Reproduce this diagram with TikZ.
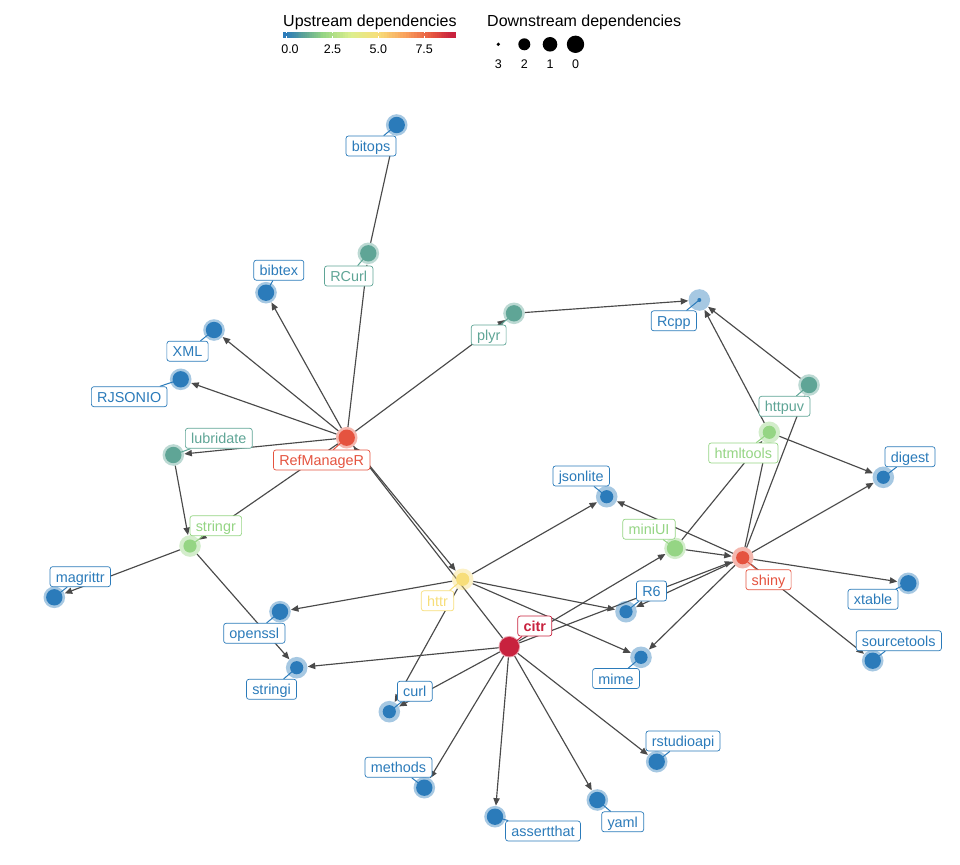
\documentclass[tikz,border=0pt]{standalone}
\usepackage{fontspec}
\setmainfont{Liberation Sans}
\usetikzlibrary{arrows.meta}
\definecolor{cblue}{HTML}{2B7BBA}
\definecolor{cteal}{HTML}{5FA596}
\definecolor{cgreen}{HTML}{95D584}
\definecolor{cyg}{HTML}{DCEF8E}
\definecolor{cyellow}{HTML}{F7DE7A}
\definecolor{corange}{HTML}{F9A05C}
\definecolor{cred}{HTML}{E5533F}
\definecolor{ccrimson}{HTML}{C8223E}
\definecolor{edgegray}{HTML}{4A4A4A}
\pgfdeclarelayer{edgelayer}
\pgfdeclarelayer{seglayer}
\pgfdeclarelayer{nodelayer}
\pgfsetlayers{edgelayer,seglayer,nodelayer,main}
\tikzset{
  pk/.style={circle,minimum size=21.6pt,inner sep=0pt,outer sep=0pt},
  lab/.style={draw=#1,text=#1,fill=white,rounded corners=2.5pt,line width=0.7pt,
    inner xsep=5.8pt,inner ysep=1.5pt,text height=14pt,text depth=3pt,
    font=\fontsize{14.4}{16}\selectfont},
  edge/.style={draw=edgegray,line width=1.15pt,-{Triangle[length=7.5pt,width=6.3pt]},shorten >=0.3pt},
  legtitle/.style={anchor=base west,inner sep=0pt,font=\fontsize{16}{18}\selectfont},
  legtick/.style={anchor=base,inner sep=0pt,font=\fontsize{12.5}{14}\selectfont}
}
% name, x, y, colour, core radius, label x, label y, text
\newcommand\pkg[8]{%
  \node[pk] (#1) at (#2,#3) {};
  \node[lab=#4] (L#1) at (#6,#7) {#8};
  \begin{pgfonlayer}{seglayer}\draw[#4,line width=1pt] (#1.center) -- (L#1);\end{pgfonlayer}
  \begin{pgfonlayer}{nodelayer}\fill[#4,fill opacity=0.42] (#1.center) circle (10.8);\fill[#4] (#1.center) circle (#5);\end{pgfonlayer}
}
\begin{document}
\begin{tikzpicture}[x=1pt,y=-1pt]
\useasboundingbox (0,0) rectangle (960,864);

% legend
\node[legtitle] (uptitle) at (283,26.7) {Upstream dependencies};
\node[legtitle] (downtitle) at (487,26.7) {Downstream dependencies};
\fill[cblue] (283,32.3) rectangle (287,37.7);
\foreach \a/\b/\ca/\cb in {0/1/cblue/cteal,1/2/cteal/cgreen,2/3.5/cgreen/cyg,3.5/5/cyg/cyellow,5/6.5/cyellow/corange,6.5/8/corange/cred,8/9/cred/ccrimson}{
  \foreach \i in {0,...,9}{
    \pgfmathsetmacro\xa{286.6+18.34*(\a+(\b-\a)*\i/10)}
    \pgfmathsetmacro\xb{286.6+18.34*(\a+(\b-\a)*(\i+1)/10)+0.3}
    \pgfmathtruncatemacro\p{(\i+0.5)*10}
    \fill[\cb!\p!\ca] (\xa,32.3) rectangle (\xb,37.7);
  }
}
\fill[ccrimson] (451.5,32.3) rectangle (456,37.7);
\foreach \tx in {286.6,332.5,378.3,424.2}{
  \draw[white,line width=0.5pt] (\tx,32.3) -- (\tx,33.5) (\tx,36.5) -- (\tx,37.7);
}
\node[legtick] (t0) at (290,53.3) {0.0};
\node[legtick] (t1) at (332.5,53.3) {2.5};
\node[legtick] (t2) at (378.3,53.3) {5.0};
\node[legtick] (t3) at (424.2,53.3) {7.5};
\fill (498.3,44.3) circle (1.8);
\fill (524.3,44.3) circle (6);
\fill (550,44.3) circle (7.3);
\fill (575.5,44.3) circle (8.7);
\node[legtick] (d3) at (498.3,68.3) {3};
\node[legtick] (d2) at (524.3,68.3) {2};
\node[legtick] (d1) at (550,68.3) {1};
\node[legtick] (d0) at (575.5,68.3) {0};

% packages
\pkg{bitops}{396.7}{125}{cblue}{8.2}{371}{146}{bitops}
\pkg{RCurl}{368.3}{253.3}{cteal}{8.2}{348.7}{276}{RCurl}
\pkg{bibtex}{266}{292.7}{cblue}{8.2}{278.8}{270.2}{bibtex}
\pkg{XML}{214}{330}{cblue}{8.2}{187.5}{351.2}{XML}
\pkg{RJSONIO}{180.7}{379.3}{cblue}{8.2}{129.2}{396.7}{RJSONIO}
\pkg{lubridate}{173.3}{455}{cteal}{8.2}{218.8}{438.3}{lubridate}
\pkg{RefManageR}{346.7}{437.7}{cred}{8.2}{321.7}{460}{RefManageR}
\pkg{plyr}{514}{313.3}{cteal}{8.2}{488.7}{335}{plyr}
\pkg{Rcpp}{699.3}{300}{cblue}{2}{673.8}{320.8}{Rcpp}
\pkg{httpuv}{809}{385}{cteal}{8.2}{784.5}{406.3}{httpuv}
\pkg{htmltools}{769.3}{432.3}{cgreen}{6.6}{743.3}{453}{htmltools}
\pkg{digest}{883.3}{477.3}{cblue}{6.6}{910}{456.7}{digest}
\pkg{jsonlite}{606.7}{496.7}{cblue}{6.6}{581.2}{476}{jsonlite}
\pkg{miniUI}{675}{548.3}{cgreen}{8.2}{649}{529.2}{miniUI}
\pkg{shiny}{742.7}{557.7}{cred}{6.6}{768.5}{579.7}{shiny}
\pkg{stringr}{190}{546}{cgreen}{6.6}{215.8}{525.8}{stringr}
\pkg{magrittr}{54.3}{597.3}{cblue}{8.2}{80.3}{576.7}{magrittr}
\pkg{httr}{462.7}{579.3}{cyellow}{6.6}{437.5}{600.8}{httr}
\pkg{R6}{626}{611.7}{cblue}{6.6}{651.5}{591}{R6}
\pkg{xtable}{908.3}{583.3}{cblue}{8.2}{873}{599.3}{xtable}
\pkg{openssl}{280}{611.7}{cblue}{8.2}{254.3}{633.3}{openssl}
\pkg{citr}{509.3}{646.7}{ccrimson}{9.8}{534.8}{626}{\bfseries citr}
\pkg{sourcetools}{872.7}{660.7}{cblue}{8.2}{898.8}{640.7}{sourcetools}
\pkg{mime}{641}{657.3}{cblue}{6.6}{616}{678.5}{mime}
\pkg{stringi}{296.7}{667.7}{cblue}{6.6}{271.5}{689.3}{stringi}
\pkg{curl}{389.3}{711.7}{cblue}{6.6}{414.8}{691.3}{curl}
\pkg{rstudioapi}{656.7}{761.7}{cblue}{8.2}{683}{741}{rstudioapi}
\pkg{methods}{424.3}{787.7}{cblue}{8.2}{398.5}{767.3}{methods}
\pkg{assertthat}{495}{816.7}{cblue}{8.2}{543}{831}{assertthat}
\pkg{yaml}{597.3}{800}{cblue}{8.2}{622.7}{821.8}{yaml}

% dependencies
\begin{pgfonlayer}{edgelayer}
\draw[edge] (RCurl) -- (bitops);
\draw[edge] (RefManageR) -- (RCurl);
\draw[edge] (RefManageR) -- (bibtex);
\draw[edge] (RefManageR) -- (XML);
\draw[edge] (RefManageR) -- (RJSONIO);
\draw[edge] (RefManageR) -- (lubridate);
\draw[edge] (RefManageR) -- (plyr);
\draw[edge] (RefManageR) -- (stringr);
\draw[edge] (RefManageR) -- (httr);
\draw[edge] (plyr) -- (Rcpp);
\draw[edge] (httpuv) -- (Rcpp);
\draw[edge] (htmltools) -- (Rcpp);
\draw[edge] (htmltools) -- (digest);
\draw[edge] (shiny) -- (httpuv);
\draw[edge] (shiny) -- (htmltools);
\draw[edge] (shiny) -- (digest);
\draw[edge] (shiny) -- (jsonlite);
\draw[edge] (shiny) -- (R6);
\draw[edge] (shiny) -- (mime);
\draw[edge] (shiny) -- (xtable);
\draw[edge] (shiny) -- (sourcetools);
\draw[edge] (miniUI) -- (shiny);
\draw[edge] (miniUI) -- (htmltools);
\draw[edge] (httr) -- (jsonlite);
\draw[edge] (httr) -- (R6);
\draw[edge] (httr) -- (mime);
\draw[edge] (httr) -- (openssl);
\draw[edge] (httr) -- (curl);
\draw[edge] (lubridate) -- (stringr);
\draw[edge] (stringr) -- (magrittr);
\draw[edge] (stringr) -- (stringi);
\draw[edge] (citr) -- (RefManageR);
\draw[edge] (citr) -- (miniUI);
\draw[edge] (citr) -- (shiny);
\draw[edge] (citr) -- (stringi);
\draw[edge] (citr) -- (curl);
\draw[edge] (citr) -- (methods);
\draw[edge] (citr) -- (assertthat);
\draw[edge] (citr) -- (yaml);
\draw[edge] (citr) -- (rstudioapi);
\end{pgfonlayer}
\end{tikzpicture}
\end{document}
